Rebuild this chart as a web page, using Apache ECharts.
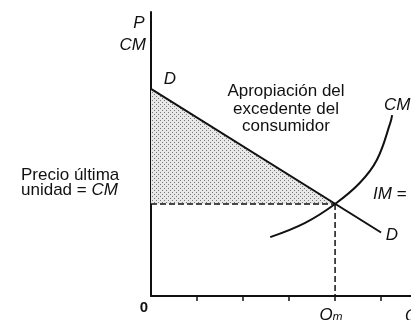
<!DOCTYPE html>
<html>
<head>
<meta charset="utf-8">
<script src="https://cdn.jsdelivr.net/npm/echarts@6/dist/echarts.min.js"></script>
<style>html,body{margin:0;padding:0;background:#fff}#c{width:411px;height:320px}</style>
</head>
<body>
<div id="c"></div>
<script>
// Data (quantity units / price units)
const xTicks = [1, 2, 3, 4, 5];
const demandX = [0, 5.0];
const demandY = [4.5, 1.38];
const mcX = [2.59, 3.35, 4.0, 4.54, 4.91, 5.2, 5.24];
const mcY = [1.28, 1.59, 2.0, 2.46, 2.96, 3.76, 3.93];
const qm = 4;
const pLast = 2;
const surplusX = [0, qm, 0];
const surplusY = [4.5, pLast, pLast];

const zip = (a, b) => a.map((v, i) => [v, b[i]]);

function makePattern() {
  const c = document.createElement('canvas');
  c.width = 4; c.height = 4;
  const g = c.getContext('2d');
  g.fillStyle = '#e8e8e8'; g.fillRect(0, 0, 4, 4);
  g.fillStyle = '#777777';
  g.fillRect(0, 0, 1, 1);
  g.fillRect(2, 2, 1, 1);
  return c;
}

const chart = echarts.init(document.getElementById('c'), null, { renderer: 'canvas' });
const F = '"Liberation Sans", Arial, sans-serif';
const FS = '17px ';
const txt = (x, y, text, opts) => Object.assign({
  type: 'text', x: x, y: y, silent: true,
  style: Object.assign({ text: text, font: FS + F, fill: '#111', align: 'left', verticalAlign: 'middle' }, opts || {})
});

chart.setOption({
  animation: false,
  backgroundColor: '#fff',
  grid: { left: 151, right: 0, top: 12, bottom: 24 },
  xAxis: {
    type: 'value', min: 0, max: 5.65, interval: 1,
    axisLine: { show: true, lineStyle: { color: '#111', width: 2 } },
    axisTick: { show: true, length: 5, lineStyle: { color: '#111', width: 1.5 }, customValues: xTicks },
    axisLabel: { show: false },
    splitLine: { show: false }
  },
  yAxis: {
    type: 'value', min: 0, max: 6.17,
    axisLine: { show: true, onZero: false, lineStyle: { color: '#111', width: 2 } },
    axisTick: { show: false },
    axisLabel: { show: false },
    splitLine: { show: false }
  },
  series: [
    {
      type: 'custom',
      data: [[0]],
      renderItem: function (params, api) {
        const pts = zip(surplusX, surplusY).map(p => api.coord(p));
        return { type: 'polygon', shape: { points: pts }, style: { fill: { image: makePattern(), repeat: 'repeat' } } };
      },
      z: 1
    },
    {
      type: 'line', data: zip(demandX, demandY), symbol: 'none',
      lineStyle: { color: '#111', width: 2 }, z: 3
    },
    {
      type: 'line', data: zip(mcX, mcY), symbol: 'none', smooth: 0.4,
      lineStyle: { color: '#111', width: 2 }, z: 3
    },
    {
      type: 'line', data: [[0, pLast], [qm, pLast]], symbol: 'none',
      lineStyle: { color: '#111', width: 1.5, type: [6, 3] }, z: 2
    },
    {
      type: 'line', data: [[qm, pLast], [qm, 0]], symbol: 'none',
      lineStyle: { color: '#111', width: 1.5, type: [6, 3] }, z: 2
    }
  ],
  graphic: [
    txt(139, 23, 'P', { font: 'italic ' + FS + F, align: 'center' }),
    txt(146, 45, 'CM', { font: 'italic ' + FS + F, align: 'right' }),
    txt(170, 79, 'D', { font: 'italic ' + FS + F, align: 'center' }),
    txt(286, 109, 'Apropiación del\nexcedente del\nconsumidor', { align: 'center', lineHeight: 17.5 }),
    txt(384, 105, 'CM', { font: 'italic ' + FS + F }),
    txt(21, 183, '{n|Precio última}\n{n|unidad = }{i|CM}', {
      lineHeight: 15,
      rich: { n: { font: FS + F, fill: '#111' }, i: { font: 'italic ' + FS + F, fill: '#111' } }
    }),
    txt(373, 194, 'IM =', { font: 'italic ' + FS + F }),
    txt(392, 235, 'D', { font: 'italic ' + FS + F, align: 'center' }),
    txt(144, 308, '0', { font: 'bold 15px ' + F, align: 'center' }),
    txt(331, 315, '{q|Q}{s|m}', {
      align: 'center',
      rich: { q: { font: 'italic 17px ' + F, fill: '#111' }, s: { font: 'italic 12px ' + F, fill: '#111', padding: [6, 0, 0, 0] } }
    }),
    txt(405, 316, 'Q', { font: 'italic ' + FS + F })
  ]
});
</script>
</body>
</html>
